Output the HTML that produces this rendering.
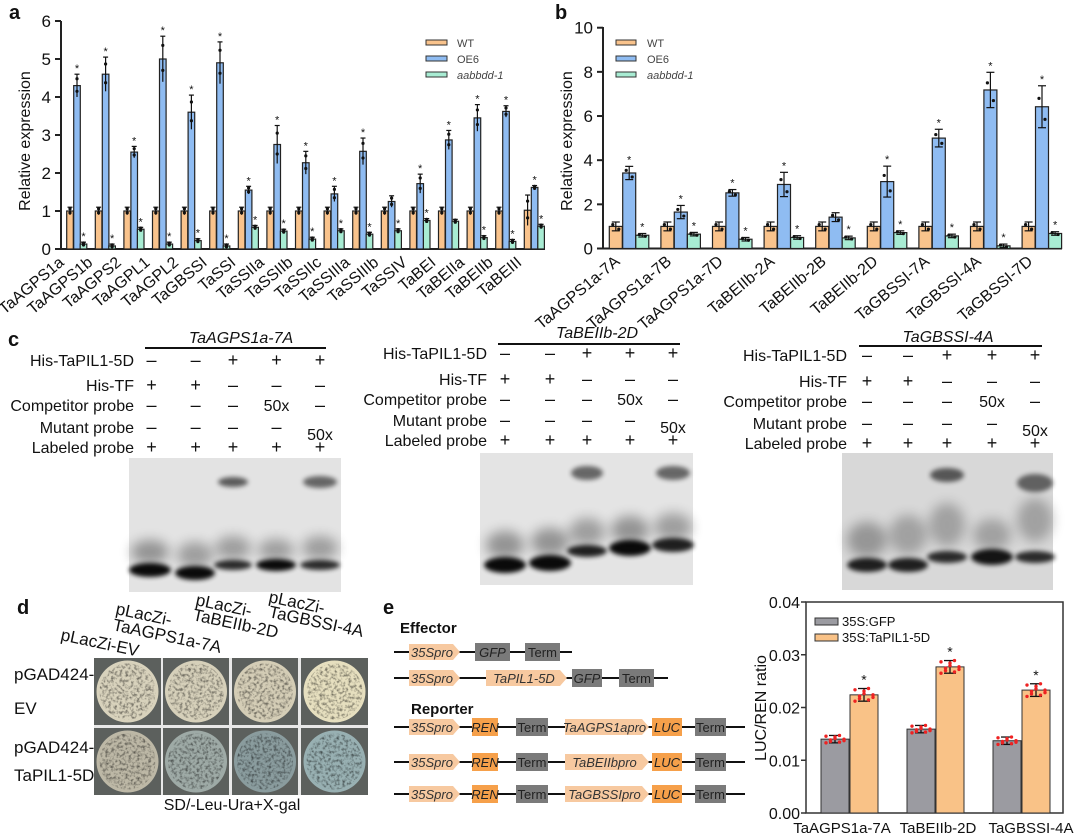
<!DOCTYPE html>
<html><head><meta charset="utf-8">
<style>
html,body{margin:0;padding:0;background:#fff;}
svg{display:block;font-family:"Liberation Sans",Arial,sans-serif;}
</style></head>
<body>
<svg id="s" width="1080" height="840" viewBox="0 0 1080 840" xmlns="http://www.w3.org/2000/svg">
<defs>
<filter id="bl" x="-50%" y="-50%" width="200%" height="200%"><feGaussianBlur stdDeviation="2.5"/></filter>
<filter id="bl2" x="-50%" y="-50%" width="200%" height="200%"><feGaussianBlur stdDeviation="6"/></filter>
<filter id="tex" x="0" y="0" width="100%" height="100%">
<feTurbulence type="fractalNoise" baseFrequency="0.35" numOctaves="2" seed="3" result="n"/>
<feColorMatrix in="n" type="matrix" values="0 0 0 0 0  0 0 0 0 0  0 0 0 0 0  0 0 0 -2.2 1.25" result="m"/>
<feComposite in="m" in2="SourceGraphic" operator="in"/>
</filter>
</defs>
<g id="root"></g>
</svg>
<script>
const R=document.getElementById('root');let H='';
function t(x,y,s,o){o=o||{};H+=`<text x="${x}" y="${y}" font-size="${o.fs||16}" ${o.a?`text-anchor="${o.a}"`:''} ${o.b?'font-weight="bold"':''} ${o.i?'font-style="italic"':''} fill="${o.c||'#111'}" ${o.r!=null?`transform="rotate(${o.r} ${x} ${y})"`:''}>${s}</text>`;}
function rc(x,y,w,h,f,s,sw){H+=`<rect x="${x}" y="${y}" width="${w}" height="${h}" fill="${f}" ${s?`stroke="${s}" stroke-width="${sw||1}"`:''}/>`;}
function ln(x1,y1,x2,y2,c,w){H+=`<line x1="${x1}" y1="${y1}" x2="${x2}" y2="${y2}" stroke="${c||'#111'}" stroke-width="${w||1.5}"/>`;}
const CW='#f9c38c',CO='#8fbcf2',CA='#a8ecd3';
// ---------- panel a
t(9,19,'a',{fs:20,b:1});
{const x0=61,y0=249,k=38,xe=545;
ln(x0,y0,xe,y0,'#222',2);ln(x0,y0,x0,21,'#222',2);
for(let v=0;v<=6;v++){ln(x0-6,y0-v*k,x0,y0-v*k,'#222',2);t(x0-10,y0-v*k+6,v,{fs:17,a:'end'});}
t(30,141,'Relative expression',{fs:16,a:'middle',r:-90});
const names=['TaAGPS1a','TaAGPS1b','TaAGPS2','TaAGPL1','TaAGPL2','TaGBSSI','TaSSI','TaSSIIa','TaSSIIb','TaSSIIc','TaSSIIIa','TaSSIIIb','TaSSIV','TaBEI','TaBEIIa','TaBEIIb','TaBEIII'];
const oe=[4.3,4.6,2.55,5.0,3.6,4.9,1.55,2.75,2.27,1.45,2.57,1.25,1.72,2.87,3.45,3.62,1.62];
const ae=[0.13,0.08,0.52,0.13,0.22,0.08,0.57,0.47,0.26,0.48,0.39,0.48,0.75,0.73,0.3,0.2,0.6];
const oerr=[0.3,0.45,0.15,0.6,0.45,0.55,0.1,0.5,0.3,0.2,0.35,0.15,0.25,0.25,0.35,0.15,0.05];
names.forEach((n,i)=>{const c=70+i*28.6;
 const bars=[[c,i==16?1.02:1,CW,i==16?0.4:0.1,0],[c+7,oe[i],CO,oerr[i],i!=11],[c+13.5,ae[i],CA,0.05,i!=13]];
 bars.forEach(([x,v,f,e,st])=>{const h=v*k;rc(x-3.3,y0-h,6.6,h,f,'#222',1.2);
  ln(x,y0-(v+e)*k,x,y0-Math.max(v-e,0)*k,'#111',1.2);ln(x-2.5,y0-(v+e)*k,x+2.5,y0-(v+e)*k,'#111',1.2);
  H+=`<circle cx="${x}" cy="${y0-(v+e*0.6)*k}" r="1.6" fill="#111"/><circle cx="${x}" cy="${y0-(v-e*0.5)*k}" r="1.6" fill="#111"/>`;
  if(st&&f!==CW)t(x,y0-(v+e)*k-2,'*',{fs:11,a:'middle'});});
 t(c-5,264,n,{fs:16,a:'end',r:-40});});
[[CW,'WT',43],[CO,'OE6',59],[CA,'aabbdd-1',75]].forEach(([f,s,y],j)=>{rc(426,y-3,21,5,f,'#333',1);t(457,y+4,s,{fs:11,c:'#444',i:j==2});});
}
// ---------- panel b
t(555,19,'b',{fs:20,b:1});
{const x0=603,y0=248.5,k=22.08,xe=1062;
ln(x0,y0,xe,y0,'#222',2);ln(x0,y0,x0,27,'#222',2);
for(let v=0;v<=10;v+=2){ln(x0-6,y0-v*k,x0,y0-v*k,'#222',2);t(x0-10,y0-v*k+6,v,{fs:17,a:'end'});}
t(572,141,'Relative expression',{fs:16,a:'middle',r:-90});
const names=['TaAGPS1a-7A','TaAGPS1a-7B','TaAGPS1a-7D','TaBEIIb-2A','TaBEIIb-2B','TaBEIIb-2D','TaGBSSI-7A','TaGBSSI-4A','TaGBSSI-7D'];
const oe=[3.42,1.65,2.52,2.9,1.42,3.03,5.0,7.18,6.42],oerr=[0.3,0.3,0.15,0.55,0.2,0.7,0.4,0.8,0.95];
const ae=[0.6,0.65,0.42,0.5,0.48,0.72,0.57,0.12,0.68];
names.forEach((n,i)=>{const c=615.8+i*51.6;
 [[c,1,CW,0.2,0],[c+13.4,oe[i],CO,oerr[i],i!=4],[c+26.5,ae[i],CA,0.08,1]].forEach(([x,v,f,e,st])=>{const h=v*k;rc(x-6.5,y0-h,13,h,f,'#222',1.2);
  ln(x,y0-(v+e)*k,x,y0-Math.max(v-e,0)*k,'#111',1.2);ln(x-4,y0-(v+e)*k,x+4,y0-(v+e)*k,'#111',1.2);ln(x-4,y0-Math.max(v-e,0)*k,x+4,y0-Math.max(v-e,0)*k,'#111',1.2);
  H+=`<circle cx="${x-3}" cy="${y0-(v+e*0.4)*k}" r="1.6" fill="#111"/><circle cx="${x+3}" cy="${y0-(v-e*0.6)*k}" r="1.6" fill="#111"/>`;
  if(st&&f!==CW)t(x,y0-(v+e)*k-3,'*',{fs:11,a:'middle'});});
 t(c+5,263,n,{fs:16,a:'end',r:-40});});
[[CW,'WT',43],[CO,'OE6',59],[CA,'aabbdd-1',75]].forEach(([f,s,y],j)=>{rc(616,y-3,20,5,f,'#333',1);t(647,y+4,s,{fs:11,c:'#444',i:j==2});});
}
// ---------- panel c
t(8,346,'c',{fs:20,b:1});
function emsa(title,tx,ty,lx1,lx2,ly,lr,rows,lanes,g,bands){
 t(tx,ty,title,{fs:16,i:1,a:'middle'});ln(lx1,ly,lx2,ly,'#111',2);
 const labs=['His-TaPIL1-5D','His-TF','Competitor probe','Mutant probe','Labeled probe'];
 const v=[['–','–','+','+','+'],['+','+','–','–','–'],['–','–','–','50x','–'],['–','–','–','–','50x'],['+','+','+','+','+']];
 labs.forEach((s,j)=>{t(lr,rows[j]+6,s,{fs:16,a:'end'});v[j].forEach((m,q)=>{const yy=(j==3&&q==4)?rows[j]+13:rows[j]+6;t(lanes[q],yy,m,{fs:m=='50x'?16:18,a:'middle'});});});
 rc(g[0],g[1],g[2],g[3],g[4]);
 bands.forEach(b=>{H+=`<ellipse cx="${b[0]}" cy="${b[1]}" rx="${b[2]}" ry="${b[3]}" fill="#000" opacity="${b[4]}" filter="url(#${b[5]||'bl'})"/>`;});
}
emsa('TaAGPS1a-7A',241,343,145,326,348,134,[360,385,405,427,447],[151.5,195.6,233,276.5,320],[129,458,212,134,'#e3e3e3'],
[[150,570,21,7,0.95],[150,552,19,12,0.35,'bl2'],[195,573,20,7,0.95],[195,555,18,13,0.3,'bl2'],[233,565,19,5,0.8],[233,548,18,12,0.3,'bl2'],[276,565,20,6,0.95],[276,550,18,11,0.3,'bl2'],[320,565,20,5,0.8],[320,548,18,12,0.3,'bl2'],[233,482,15,5,0.6],[320,482,17,6,0.55]]);
emsa('TaBEIIb-2D',597,338,498,680,344,487,[353,379,399,420,440],[505,550,587,630,673],[480,453,213,132,'#e4e4e4'],
[[505,565,21,8,0.95],[505,545,19,14,0.35,'bl2'],[550,563,21,8,0.95],[550,542,19,14,0.35,'bl2'],[587,551,20,6,0.85],[587,532,18,14,0.3,'bl2'],[630,548,21,8,0.95],[630,530,19,14,0.35,'bl2'],[673,545,21,7,0.85],[673,527,19,14,0.3,'bl2'],[587,473,16,7,0.55],[673,473,17,7,0.55]]);
emsa('TaGBSSI-4A',948,342,859,1042,346,847,[355,381,401,423,443],[867,908,947,992,1035],[842,453,211,137,'#d8d8d8'],
[[867,565,20,7,0.85],[867,540,20,18,0.3,'bl2'],[908,565,20,7,0.85],[908,535,19,20,0.25,'bl2'],[947,557,20,6,0.8],[947,525,18,22,0.25,'bl2'],[992,557,21,8,0.9],[992,535,19,16,0.25,'bl2'],[1035,557,20,6,0.8],[1035,520,18,22,0.25,'bl2'],[947,475,17,7,0.6],[1035,483,18,9,0.55]]);
// ---------- panel d
t(17,614,'d',{fs:20,b:1});
[['pLacZi-EV',60,640],['pLacZi-',115,614],['TaAGPS1a-7A',112,630],['pLacZi-',195,605],['TaBEIIb-2D',192,620],['pLacZi-',268,602],['TaGBSSI-4A',268,617]].forEach(([s,x,y])=>t(x,y,s,{fs:17,r:12}));
t(14,680,'pGAD424-',{fs:17});t(14,714,'EV',{fs:17});t(14,753,'pGAD424-',{fs:17});t(14,781,'TaPIL1-5D',{fs:17});
rc(94,658,274,137,'#e8e8e8');
const cols=[[94,161],[163,229],[232,298],[301,368]],rowsD=[[658,725],[728,795]];
const plateC=[['#d8d2bc','#d6d0ba','#d4cdb6','#e6dfbf'],['#bdb8a6','#9eaaa6','#8a9c9e','#98b0b2']];
rowsD.forEach(([y1,y2],r)=>cols.forEach(([x1,x2],c)=>{rc(x1,y1,x2-x1,y2-y1,'#5c605d');const cx=(x1+x2)/2,cy=(y1+y2)/2,rr=31;
 H+=`<circle cx="${cx}" cy="${cy}" r="${rr}" fill="${plateC[r][c]}"/>`;
 H+=`<circle cx="${cx}" cy="${cy}" r="${rr-3}" fill="#3f4442" opacity="0.55" filter="url(#tex)"/>`;}));
t(232,810,'SD/-Leu-Ura+X-gal',{fs:16,a:'middle'});
// ---------- panel e diagram
t(383,614,'e',{fs:20,b:1});
t(400,633,'Effector',{fs:15,b:1});t(411,714,'Reporter',{fs:15,b:1});
function pent(x1,x2,y,s,f){const h=8;H+=`<polygon points="${x1},${y-h} ${x2-7},${y-h} ${x2},${y} ${x2-7},${y+h} ${x1},${y+h}" fill="${f||'#f7c9a0'}"/>`;t((x1+x2-5)/2,y+5,s,{fs:13,i:1,a:'middle',c:'#333'});}
function box(x1,x2,y,s,f,it){rc(x1,y-9,x2-x1,18,f);t((x1+x2)/2,y+5,s,{fs:13,i:it,a:'middle',c:'#222'});}
ln(394,652,572,652,'#111',2);pent(409,460,652,'35Spro');box(475,510,652,'GFP','#7a7a7a',1);box(525,560,652,'Term','#7a7a7a',0);
ln(394,678,668,678,'#111',2);pent(409,460,678,'35Spro');pent(486,567,678,'TaPIL1-5D');box(572,602,678,'GFP','#7a7a7a',1);box(619,654,678,'Term','#7a7a7a',0);
[[727,'TaAGPS1apro'],[762,'TaBEIIbpro'],[794,'TaGBSSIpro']].forEach(([y,p])=>{ln(394,y,745,y,'#111',2);pent(409,460,y,'35Spro');box(472,498,y,'REN','#f6a04a',1);box(516,548,y,'Term','#7a7a7a',0);pent(565,649,y,p);box(652,682,y,'LUC','#f6a04a',1);box(695,726,y,'Term','#7a7a7a',0);});
// ---------- panel e chart
{const x0=806,x1=1063,yt=602,y0=813,k=5275;
rc(x0,yt,x1-x0,y0-yt,'none','#333',1.5);
[0,0.01,0.02,0.03,0.04].forEach(v=>{ln(x0-5,y0-v*k,x0,y0-v*k,'#333',1.5);t(x0-6,y0-v*k+6,v.toFixed(2),{fs:16,a:'end'});});
t(766,708,'LUC/REN ratio',{fs:16,a:'middle',r:-90});
const gv=[0.0140,0.0159,0.0137],ov=[0.0224,0.0277,0.0233],gx=[821,907,993];
const lab=['TaAGPS1a-7A','TaBEIIb-2D','TaGBSSI-4A'],lc=[842,938,1031];
gx.forEach((x,i)=>{[[x,gv[i],'#9b9ba1',0.0007],[x+29,ov[i],'#f9c287',0.0012]].forEach(([bx,v,f,e],j)=>{rc(bx,y0-v*k,28,v*k,f,'#333',1);
 const cx=bx+14;ln(cx,y0-(v+e)*k,cx,y0-(v-e)*k,'#111',1.3);ln(cx-6,y0-(v+e)*k,cx+6,y0-(v+e)*k,'#111',1.3);ln(cx-6,y0-(v-e)*k,cx+6,y0-(v-e)*k,'#111',1.3);
 for(let q=0;q<10;q++){const dx=(q%5-2)*4.5,dv=((q*37)%11-5)/5*e;H+=`<circle cx="${cx+dx}" cy="${y0-(v+dv)*k}" r="1.7" fill="#ee2222"/>`;}
 if(j==1)t(cx,y0-(v+e)*k-4,'*',{fs:14,a:'middle'});});
 t(lc[i],833,lab[i],{fs:15,a:'middle'});});
rc(815,618,23,7,'#9b9ba1','#333',1);t(842,626,'35S:GFP',{fs:13});
rc(815,634,23,7,'#f9c287','#333',1);t(842,642,'35S:TaPIL1-5D',{fs:13});
}
R.innerHTML=H;
</script>
</body></html>
